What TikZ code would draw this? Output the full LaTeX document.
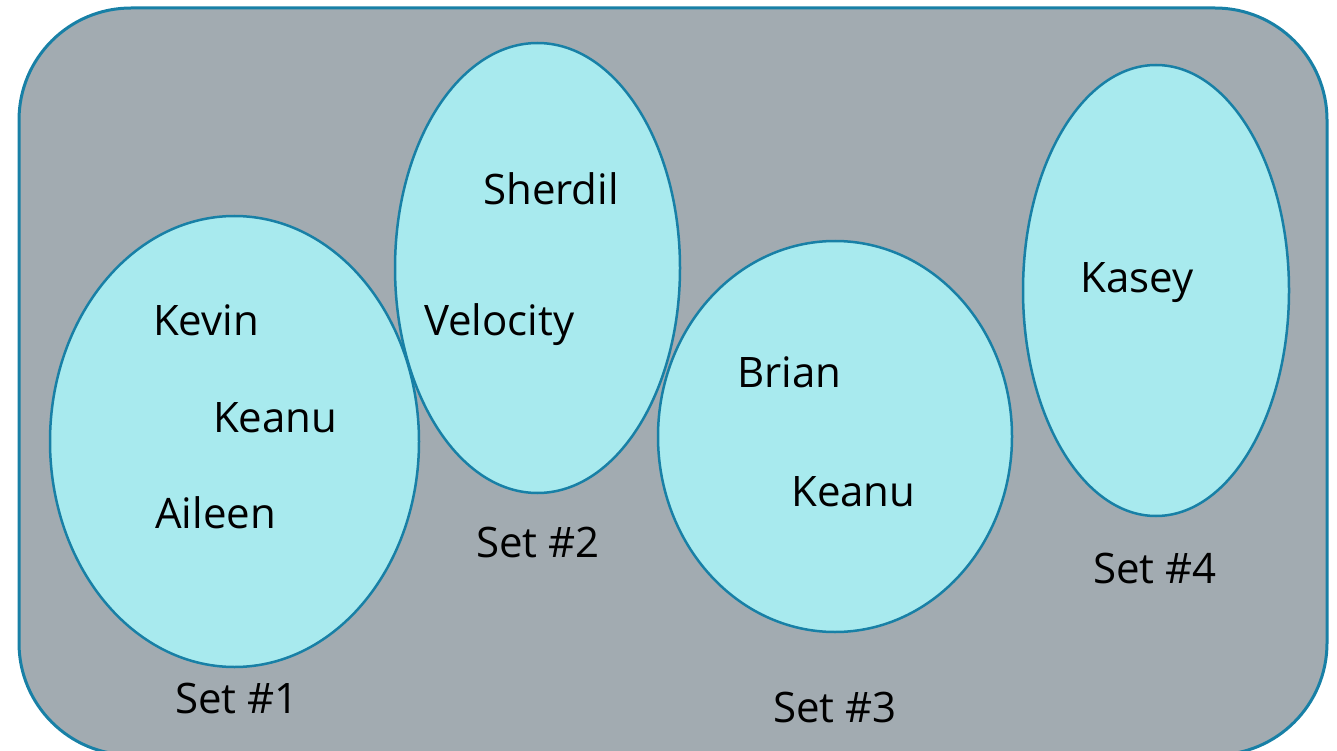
\documentclass[tikz,border=0pt]{standalone}
\usepackage{fontspec}
\setmainfont{Open Sans}
\definecolor{panelgray}{RGB}{162,171,177}
\definecolor{setfill}{RGB}{168,234,238}
\definecolor{edgeblue}{RGB}{24,128,166}
\begin{document}
\begin{tikzpicture}[x=1pt,y=-1pt,
  panel/.style={draw=edgeblue,line width=3pt,fill=panelgray,rounded corners=112pt},
  setshape/.style={draw=edgeblue,line width=2.5pt},
  lbl/.style={anchor=base west,inner sep=0pt,font=\fontsize{42}{50}\selectfont}]
\useasboundingbox (0,0) rectangle (1337,751);
\begin{scope}
\clip (0,0) rectangle (1337,751);
\draw[panel] (19,8) rectangle (1327,755);
\end{scope}
% set regions: fills first, then outlines so overlaps keep both edges
\fill[setfill] (234.5,441.5) ellipse [x radius=184.5,y radius=225.5];
\fill[setfill] (537.5,268) ellipse [x radius=142.5,y radius=225];
\fill[setfill] (835,436.5) ellipse [x radius=177,y radius=195.5];
\fill[setfill] (1156,290.5) ellipse [x radius=133,y radius=225.5];
\draw[setshape] (234.5,441.5) ellipse [x radius=184.5,y radius=225.5];
\draw[setshape] (537.5,268) ellipse [x radius=142.5,y radius=225];
\draw[setshape] (835,436.5) ellipse [x radius=177,y radius=195.5];
\draw[setshape] (1156,290.5) ellipse [x radius=133,y radius=225.5];
% members
\node[lbl] (kevin) at (153,335) {Kevin};
\node[lbl] (keanuA) at (213,432) {Keanu};
\node[lbl] (aileen) at (155,528) {Aileen};
\node[lbl] (sherdil) at (483,205) {Sherdil};
\node[lbl] (velocity) at (424,335) {Velocity};
\node[lbl] (brian) at (737,387) {Brian};
\node[lbl] (keanuB) at (791,506) {Keanu};
\node[lbl] (kasey) at (1080,292) {Kasey};
% set captions
\node[lbl] (set1) at (175,713) {Set \#1};
\node[lbl] (set2) at (476,557) {Set \#2};
\node[lbl] (set3) at (773,722) {Set \#3};
\node[lbl] (set4) at (1093,583) {Set \#4};
\end{tikzpicture}
\end{document}
